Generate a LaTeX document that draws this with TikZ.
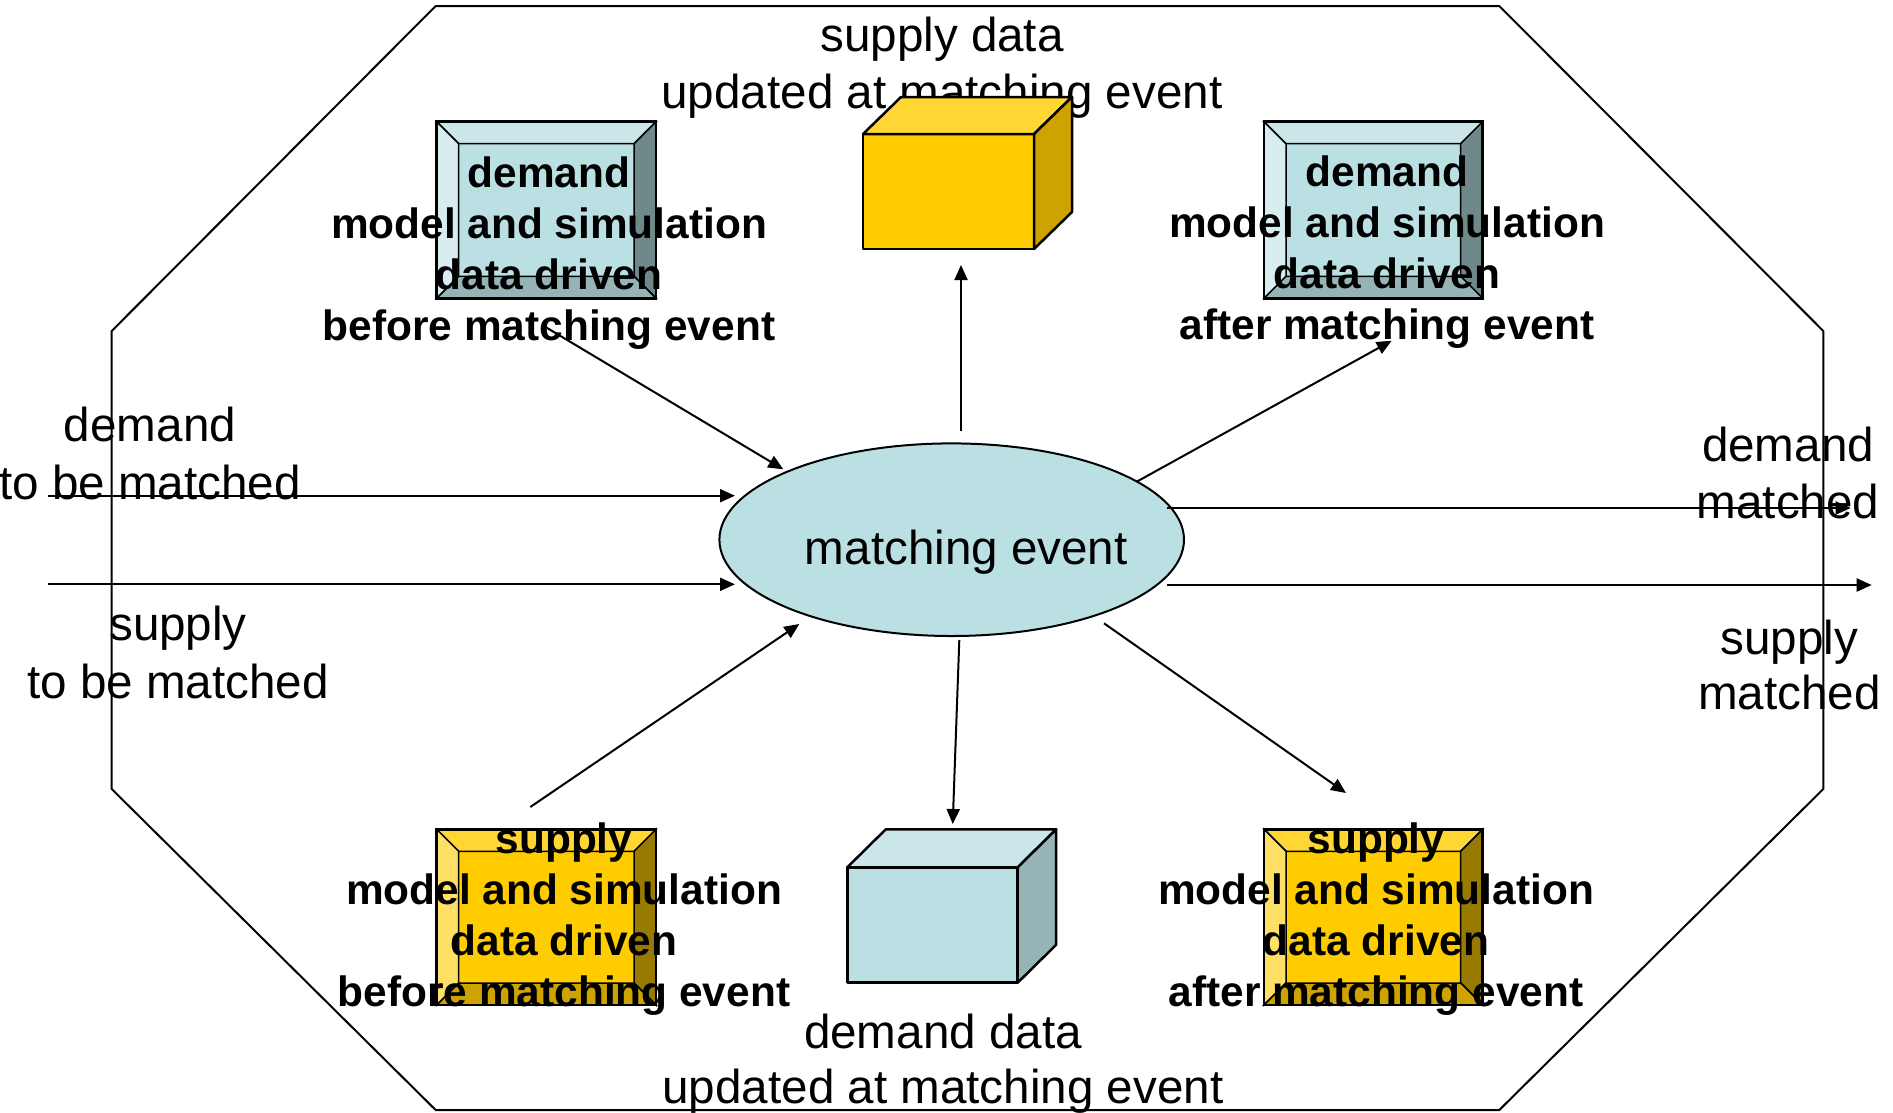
\documentclass[tikz,border=0pt]{standalone}
\usepackage{fontspec}
\setmainfont{Liberation Sans}
\usetikzlibrary{arrows.meta,shapes.geometric}
\definecolor{demC}{RGB}{187,224,227}
\definecolor{demT}{RGB}{202,230,233}
\definecolor{demL}{RGB}{216,237,240}
\definecolor{demR}{RGB}{111,137,139}
\definecolor{demB}{RGB}{150,179,181}
\definecolor{supC}{RGB}{255,204,0}
\definecolor{supT}{RGB}{255,214,51}
\definecolor{supL}{RGB}{255,224,102}
\definecolor{supR}{RGB}{153,122,0}
\definecolor{supB}{RGB}{204,163,0}
\newcommand\bevelbox[5]{%
  \fill[#5C] (#1,#2) rectangle (#3,#4);
  \filldraw[#5T,draw=black,line width=1.5pt] (#1,#2) -- (#3,#2) -- (#3-22,#2+22) -- (#1+22,#2+22) -- cycle;
  \filldraw[#5L,draw=black,line width=1.5pt] (#1,#2) -- (#1+22,#2+22) -- (#1+22,#4-22) -- (#1,#4) -- cycle;
  \filldraw[#5R,draw=black,line width=1.5pt] (#3,#2) -- (#3-22,#2+22) -- (#3-22,#4-22) -- (#3,#4) -- cycle;
  \filldraw[#5B,draw=black,line width=1.5pt] (#1,#4) -- (#1+22,#4-22) -- (#3-22,#4-22) -- (#3,#4) -- cycle;
  \draw[line width=2.7pt] (#1,#2) rectangle (#3,#4);
}
\newcommand\cubebox[7]{% x1 y1 x2 y2 dx dy prefix
  \filldraw[#7C,draw=black,line width=2.5pt,line join=round] (#1,#2) rectangle (#3,#4);
  \filldraw[#7T,draw=black,line width=2.5pt,line join=round] (#1,#2) -- (#1+#5,#2+#6) -- (#3+#5,#2+#6) -- (#3,#2) -- cycle;
  \filldraw[#7B,draw=black,line width=2.5pt,line join=round] (#3,#2) -- (#3+#5,#2+#6) -- (#3+#5,#4+#6) -- (#3,#4) -- cycle;
}
\begin{document}
\begin{tikzpicture}[x=1pt,y=-1pt,
  reg/.style={font=\fontsize{47.6}{53.3}\selectfont,inner sep=0pt,align=center,anchor=base},
  bld/.style={font=\bfseries\fontsize{42.4}{51}\selectfont,inner sep=0pt,align=center,anchor=base},
  arr/.style={line width=2pt,-{Triangle[length=15pt,width=13pt]}}]
\useasboundingbox[fill=white] (0,0) rectangle (1893,1112);
% text under the top cube
\node[reg] (tsup) at (942,108) {supply data\\[3.5pt]updated at matching event};
% bevel boxes
\bevelbox{436.7}{121.7}{656}{298.3}{dem}
\bevelbox{1264}{121.7}{1482.7}{298.3}{dem}
\bevelbox{436.7}{829.3}{656}{1005}{sup}
\bevelbox{1264}{829.3}{1482.7}{1005}{sup}
% cubes
\cubebox{863}{134}{1034}{249}{38}{-37}{sup}
\cubebox{847.3}{867.3}{1017.7}{982.7}{38.5}{-38}{dem}
% ellipse
\node[ellipse,draw,line width=2pt,fill=demC,minimum width=464.6pt,minimum height=192.6pt,inner sep=0pt] (me) at (951.7,539.7) {};
\node[reg] (metext) at (966.3,564) {matching event};
% texts
\node[reg] (tdem) at (943,1103) {demand data\\[1.5pt]updated at matching event};
\node[reg] (ldem) at (150,499) {demand\\[4pt]to be matched};
\node[reg] (lsup) at (178,698) {supply\\[4.4pt]to be matched};
\node[reg] (rdem) at (1788,518) {demand\\[3.4pt]matched};
\node[reg] (rsup) at (1789.5,709) {supply\\[1.7pt]matched};
\node[bld] (tl) at (549,340) {demand\\model and simulation\\data driven\\before matching event};
\node[bld] (tr) at (1387,339) {demand\\model and simulation\\data driven\\after matching event};
\node[bld] (bl) at (564,1006.7) {supply\\model and simulation\\data driven\\before matching event};
\node[bld] (br) at (1376,1006.7) {supply\\model and simulation\\data driven\\after matching event};
% coordinates
\coordinate (a1s) at (545,326.7);   \coordinate (a1e) at (783.3,469.3);
\coordinate (a2s) at (961,431);     \coordinate (a2e) at (961,265);
\coordinate (a3s) at (1136.7,481.7);\coordinate (a3e) at (1391.7,340.7);
\coordinate (a4s) at (47.7,495.7);  \coordinate (a4e) at (735,495.7);
\coordinate (a5s) at (47.7,584.3);  \coordinate (a5e) at (735,584.3);
\coordinate (a6s) at (1166.7,508);  \coordinate (a6e) at (1850.7,508);
\coordinate (a7s) at (1166.7,585);  \coordinate (a7e) at (1871.7,585);
\coordinate (a8s) at (530.3,807);   \coordinate (a8e) at (799.3,624);
\coordinate (a9s) at (959.3,640);   \coordinate (a9e) at (952.7,824);
\coordinate (a10s) at (1104,623.3); \coordinate (a10e) at (1346,793);
% arrows
\draw[arr] (a1s) -- (a1e);
\draw[arr] (a2s) -- (a2e);
\draw[arr] (a3s) -- (a3e);
\draw[arr] (a4s) -- (a4e);
\draw[arr] (a5s) -- (a5e);
\draw[arr] (a6s) -- (a6e);
\draw[arr] (a7s) -- (a7e);
\draw[arr] (a8s) -- (a8e);
\draw[arr] (a9s) -- (a9e);
\draw[arr] (a10s) -- (a10e);
% octagon
\draw[line width=2pt] (435.7,6) -- (1499.3,6) -- (1823.3,331) -- (1823.3,789) -- (1499.3,1110) -- (435.7,1110) -- (111.7,789) -- (111.7,331) -- cycle;
\end{tikzpicture}
\end{document}
